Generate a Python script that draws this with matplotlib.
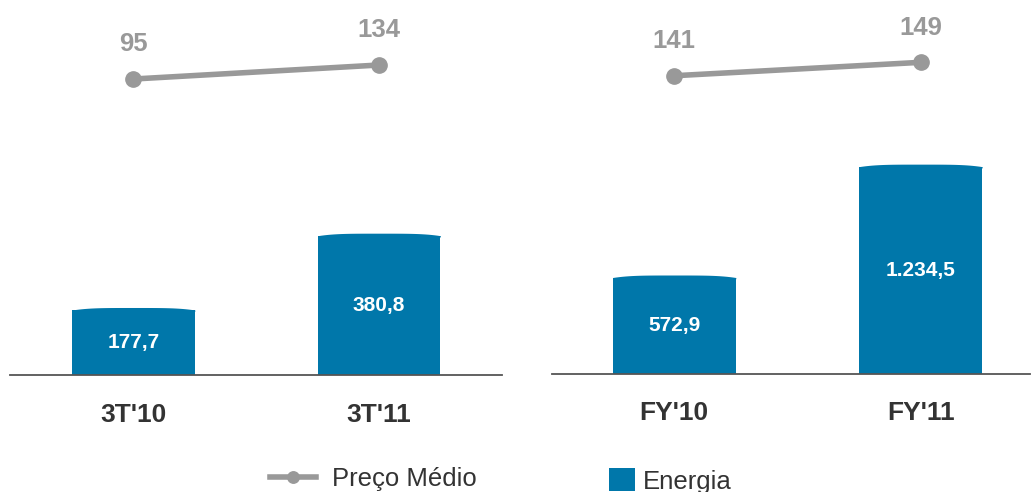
import matplotlib
matplotlib.use("Agg")
import matplotlib.pyplot as plt
import numpy as np

plt.rcParams["font.family"] = ["Liberation Sans", "DejaVu Sans"]

# ---------------------------------------------------------
# Data
# ---------------------------------------------------------

quarter_labels = ["3T'10", "3T'11"]
quarter_energia = [177.7, 380.8]
quarter_preco = [95, 134]

year_labels = ["FY'10", "FY'11"]
year_energia = [572.9, 1234.5]
year_preco = [141, 149]

BAR_COLOR = "#0077AA"
LINE_COLOR = "#999999"
TEXT_DARK = "#333333"


def fmt_br(v):
    s = f"{v:,.1f}"
    return s.replace(",", "X").replace(".", ",").replace("X", ".")


def draw_panel(fig, rect, labels, energia, preco, xlim, ylim_bar, ylim_line):
    ax = fig.add_axes(rect)
    x = np.arange(len(labels))
    width = 0.50

    bars = ax.bar(x, energia, width=width, color=BAR_COLOR, zorder=2)

    # slightly rounded tops
    h_px = rect[3] * fig.get_size_inches()[1] * fig.dpi
    cap = 2.5 * (ylim_bar[1] - ylim_bar[0]) / h_px
    for b in bars:
        xs = np.linspace(b.get_x(), b.get_x() + b.get_width(), 40)
        t = (xs - (b.get_x() + b.get_width() / 2)) / (b.get_width() / 2)
        ax.fill_between(xs, b.get_height() - 0.5 * cap,
                        b.get_height() + cap * (1 - t ** 4),
                        color=BAR_COLOR, lw=0, zorder=2)

    for xi, v in zip(x, energia):
        ax.text(xi, v / 2, fmt_br(v), ha="center", va="center",
                color="white", fontsize=15, fontweight="bold", zorder=3)

    ax.set_xlim(*xlim)
    ax.set_ylim(*ylim_bar)
    ax.set_xticks(x)
    ax.set_xticklabels(labels, fontsize=19, fontweight="bold", color=TEXT_DARK)
    ax.tick_params(axis="x", length=0, pad=20)
    ax.set_yticks([])
    for side in ["top", "right", "left"]:
        ax.spines[side].set_visible(False)
    ax.spines["bottom"].set_color("#555555")
    ax.spines["bottom"].set_linewidth(1.3)
    ax.patch.set_alpha(0)

    ax2 = ax.twinx()
    line, = ax2.plot(x, preco, color=LINE_COLOR, lw=4, marker="o",
                     markersize=11, zorder=4)
    for xi, v in zip(x, preco):
        ax2.annotate(str(v), (xi, v), xytext=(0, 25), textcoords="offset points",
                     ha="center", va="center", fontsize=18.5, fontweight="bold",
                     color=LINE_COLOR)
    ax2.set_ylim(*ylim_line)
    ax2.set_yticks([])
    for side in ["top", "right", "left", "bottom"]:
        ax2.spines[side].set_visible(False)

    return bars, line


fig = plt.figure(figsize=(10.31, 4.92), dpi=100)
W, H = 1031, 492

bars_q, line_q = draw_panel(
    fig, [10 / W, 1 - 375 / H, 492 / W, 375 / H],
    quarter_labels, quarter_energia, quarter_preco,
    (-0.503, 1.501), (0, 1025), (-729.5, 315.1))

bars_y, line_y = draw_panel(
    fig, [552 / W, 1 - 373.5 / H, 478 / W, 373.5 / H],
    year_labels, year_energia, year_preco,
    (-0.496, 1.444), (0, 2229), (-36.7, 186.2))

fig.legend(handles=[line_q], labels=["Preço Médio"], loc="center left",
           bbox_to_anchor=(270 / W, 1 - 479 / H), frameon=False,
           fontsize=18.5, handlelength=1.8, handletextpad=0.6,
           markerscale=0.75, borderpad=0, borderaxespad=0,
           labelcolor=TEXT_DARK)
fig.legend(handles=[bars_q[0]], labels=["Energia"], loc="center left",
           bbox_to_anchor=(609 / W, 1 - 481 / H), frameon=False,
           fontsize=18.5, handlelength=1.0, handleheight=1.0,
           handletextpad=0.3, borderpad=0, borderaxespad=0,
           labelcolor=TEXT_DARK)

fig.savefig("out.png", dpi=100)
